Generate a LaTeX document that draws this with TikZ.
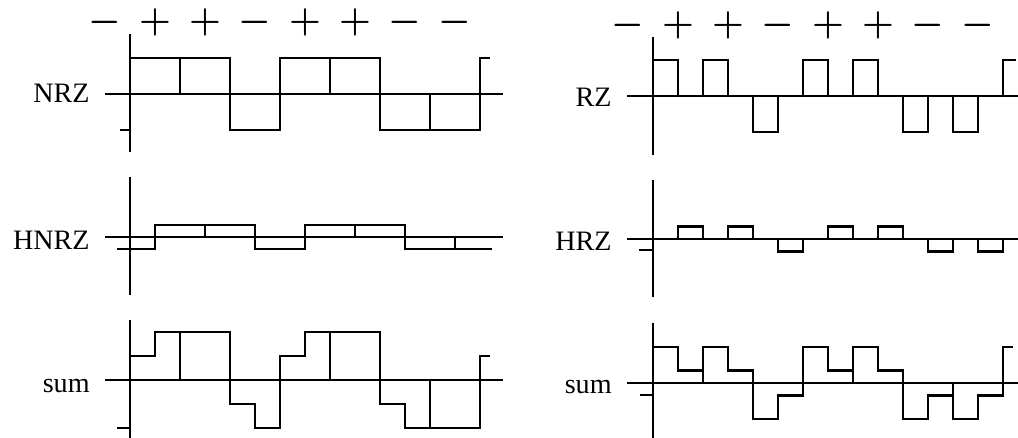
\documentclass[tikz,border=0pt]{standalone}
\usepackage{fontspec}
\setmainfont{Liberation Serif}
\usepackage{tikz}

\tikzset{
  wave/.style={line width=1.3pt},
  axisline/.style={line width=1.2pt},
  lbl/.style={font=\fontsize{16}{19}\selectfont, anchor=base east, inner sep=0pt},
  sgn/.style={font=\fontsize{21}{24}\selectfont\boldmath, inner sep=0pt}
}

\begin{document}
\begin{tikzpicture}[x=1cm,y=1cm]
  \useasboundingbox (0,0) rectangle (20.36,8.74);

  % left column: NRZ, HNRZ and their sum
  \begin{scope}[shift={(2.6,6.86)}]
    \foreach \s [count=\k from 0] in {-,+,+,-,+,+,-,-}
      \node[sgn] (ls\k) at (\k-0.5,1.44) {$\s$};
    \node[lbl] (nrz) at (-0.8,-0.18) {NRZ};
    \draw[axisline] (0,-1.16) -- (0,1.2);
    \draw[axisline] (-0.5,0) -- (7.46,0);
    \draw[axisline] (-0.2,-0.72) -- (0,-0.72);
    \draw[wave] (0,0.72) -- (2,0.72) -- (2,-0.72) -- (3,-0.72) -- (3,0.72)
      -- (5,0.72) -- (5,-0.72) -- (7,-0.72) -- (7,0.72) -- (7.2,0.72);
    \draw[wave] (1,0) -- (1,0.72);
    \draw[wave] (4,0) -- (4,0.72);
    \draw[wave] (6,0) -- (6,-0.72);
  \end{scope}

  \begin{scope}[shift={(2.6,4.0)}]
    \node[lbl] (hnrz) at (-0.8,-0.24) {HNRZ};
    \draw[axisline] (0,-1.16) -- (0,1.2);
    \draw[axisline] (-0.5,0) -- (7.46,0);
    \draw[wave] (-0.26,-0.24) -- (0.5,-0.24) -- (0.5,0.24) -- (2.5,0.24)
      -- (2.5,-0.24) -- (3.5,-0.24) -- (3.5,0.24) -- (5.5,0.24)
      -- (5.5,-0.24) -- (7.24,-0.24);
    \draw[wave] (1.5,0) -- (1.5,0.24);
    \draw[wave] (4.5,0) -- (4.5,0.24);
    \draw[wave] (6.5,0) -- (6.5,-0.24);
  \end{scope}

  \begin{scope}[shift={(2.6,1.14)}]
    \node[lbl] (lsum) at (-0.8,-0.24) {sum};
    \draw[axisline] (0,-1.16) -- (0,1.2);
    \draw[axisline] (-0.5,0) -- (7.46,0);
    \draw[axisline] (-0.26,-0.96) -- (0,-0.96);
    \draw[wave] (0,0.48) -- (0.5,0.48) -- (0.5,0.96) -- (2,0.96)
      -- (2,-0.48) -- (2.5,-0.48) -- (2.5,-0.96) -- (3,-0.96)
      -- (3,0.48) -- (3.5,0.48) -- (3.5,0.96) -- (5,0.96)
      -- (5,-0.48) -- (5.5,-0.48) -- (5.5,-0.96) -- (7,-0.96)
      -- (7,0.48) -- (7.2,0.48);
    \draw[wave] (1,0) -- (1,0.96);
    \draw[wave] (4,0) -- (4,0.96);
    \draw[wave] (6,0) -- (6,-0.96);
  \end{scope}

  % right column: RZ, HRZ and their sum
  \begin{scope}[shift={(13.06,6.82)}]
    \foreach \s [count=\k from 0] in {-,+,+,-,+,+,-,-}
      \node[sgn] (rs\k) at (\k-0.5,1.42) {$\s$};
    \node[lbl] (rz) at (-0.82,-0.22) {RZ};
    \draw[axisline] (0,-1.18) -- (0,1.18);
    \draw[axisline] (-0.52,0) -- (7.3,0);
    \draw[wave] (0,0.72) -- (0.5,0.72) -- (0.5,0);
    \draw[wave] (1,0) -- (1,0.72) -- (1.5,0.72) -- (1.5,0);
    \draw[wave] (2,0) -- (2,-0.72) -- (2.5,-0.72) -- (2.5,0);
    \draw[wave] (3,0) -- (3,0.72) -- (3.5,0.72) -- (3.5,0);
    \draw[wave] (4,0) -- (4,0.72) -- (4.5,0.72) -- (4.5,0);
    \draw[wave] (5,0) -- (5,-0.72) -- (5.5,-0.72) -- (5.5,0);
    \draw[wave] (6,0) -- (6,-0.72) -- (6.5,-0.72) -- (6.5,0);
    \draw[wave] (7,0) -- (7,0.72) -- (7.26,0.72);
  \end{scope}

  \begin{scope}[shift={(13.06,3.96)}]
    \node[lbl] (hrz) at (-0.82,-0.22) {HRZ};
    \draw[axisline] (0,-1.16) -- (0,1.18);
    \draw[axisline] (-0.52,0) -- (7.3,0);
    \draw[axisline] (-0.28,-0.22) -- (0,-0.22);
    \draw[wave] (0.5,0) -- (0.5,0.25) -- (1,0.25) -- (1,0);
    \draw[wave] (1.5,0) -- (1.5,0.25) -- (2,0.25) -- (2,0);
    \draw[wave] (2.5,0) -- (2.5,-0.25) -- (3,-0.25) -- (3,0);
    \draw[wave] (3.5,0) -- (3.5,0.25) -- (4,0.25) -- (4,0);
    \draw[wave] (4.5,0) -- (4.5,0.25) -- (5,0.25) -- (5,0);
    \draw[wave] (5.5,0) -- (5.5,-0.25) -- (6,-0.25) -- (6,0);
    \draw[wave] (6.5,0) -- (6.5,-0.25) -- (7,-0.25) -- (7,0);
  \end{scope}

  \begin{scope}[shift={(13.06,1.08)}]
    \node[lbl] (rsum) at (-0.82,-0.2) {sum};
    \draw[axisline] (0,-1.16) -- (0,1.2);
    \draw[axisline] (-0.52,0) -- (7.3,0);
    \draw[axisline] (-0.26,-0.24) -- (0,-0.24);
    \draw[wave] (0,0.72) -- (0.5,0.72) -- (0.5,0.25) -- (1,0.25)
      -- (1,0.72) -- (1.5,0.72) -- (1.5,0.25) -- (2,0.25)
      -- (2,-0.72) -- (2.5,-0.72) -- (2.5,-0.25) -- (3,-0.25)
      -- (3,0.72) -- (3.5,0.72) -- (3.5,0.25) -- (4,0.25)
      -- (4,0.72) -- (4.5,0.72) -- (4.5,0.25) -- (5,0.25)
      -- (5,-0.72) -- (5.5,-0.72) -- (5.5,-0.25) -- (6,-0.25)
      -- (6,-0.72) -- (6.5,-0.72) -- (6.5,-0.25) -- (7,-0.25)
      -- (7,0.72) -- (7.2,0.72);
    \draw[wave] (1,0) -- (1,0.25);
    \draw[wave] (4,0) -- (4,0.25);
    \draw[wave] (6,0) -- (6,-0.25);
  \end{scope}
\end{tikzpicture}
\end{document}
